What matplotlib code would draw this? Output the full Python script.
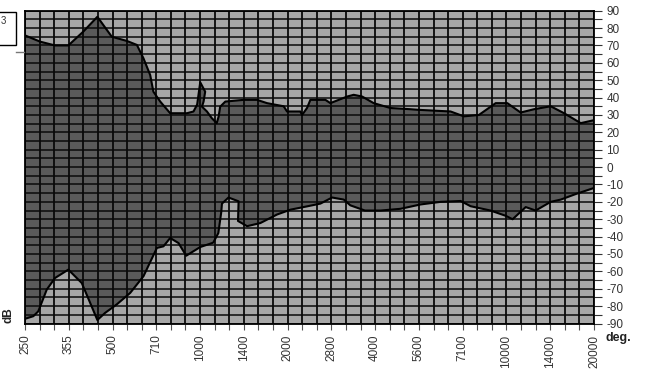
import numpy as np
import matplotlib
matplotlib.use("Agg")
import matplotlib.pyplot as plt
from matplotlib.patches import Rectangle
from matplotlib.lines import Line2D

plt.rcParams['font.family'] = ['Liberation Sans', 'DejaVu Sans']

# frequency bands (categorical axis, labels on every 3rd band)
n_bands = 40
freq_labels = ['250', '355', '500', '710', '1000', '1400', '2000', '2800',
               '4000', '5600', '7100', '10000', '14000', '20000']

# upper edge of the coverage (band position, degrees)
upper_pos = [0, 1.03, 2.06, 2.97, 4.0, 4.96, 5.95, 6.98, 7.67, 8.12, 8.58, 8.8,
             9.27, 9.95, 11.1, 11.55, 11.8, 12.01, 12.35, 12.24, 12.13, 12.47,
             12.8, 13.14, 13.27, 13.38, 13.73, 14.98, 15.9, 16.59, 17.73, 17.96,
             18.87, 18.99, 19.33, 19.56, 20.59, 20.93, 22.08, 22.53, 23.11, 23.9,
             25.05, 26.42, 26.88, 29.17, 30.08, 31.11, 32.26, 33.06, 33.97, 34.89,
             36.03, 36.95, 38.09, 39]
upper_deg = [75.8, 72.2, 70, 70, 78, 86.5, 75, 72.6, 70.3, 62.6, 53, 43.4,
             37.7, 31, 31, 32, 36, 48.8, 43.4, 37.7, 34.8, 32,
             28.2, 25.3, 29, 34.8, 37.7, 38.7, 38.7, 36.8, 35, 32,
             32, 30, 34, 38.7, 38.7, 36.8, 40.6, 41.6, 40.6, 36.8,
             34, 33.3, 33, 32, 29.2, 30, 36.8, 36.8, 31.4, 33.3,
             35, 31, 25.3, 27]

# lower edge of the coverage
lower_pos = [0, 0.57, 0.91, 1.49, 2.06, 2.97, 3.89, 4.46, 4.96, 5.49, 6.29, 7.21,
             8.12, 9.04, 9.49, 9.95, 10.52, 11.05, 12.01, 12.9, 13.25, 13.45,
             13.5, 13.95, 14.64, 14.6, 15.22, 16.13, 17.27, 18.19, 19.33, 20.25,
             21.05, 21.85, 22.3, 23.3, 24.37, 25.74, 27.11, 28.48, 29.86, 30.54,
             31.91, 32.94, 33.42, 34.32, 35.0, 36.03, 36.72, 37.75, 39]
lower_deg = [-87.3, -85.8, -83, -70.5, -63.8, -59, -66.7, -78, -88, -83.9, -79, -72.4,
             -62.8, -46.5, -45.6, -40.8, -43.7, -51, -46, -43.5, -38, -26,
             -21, -17.5, -19.7, -31, -34, -32.2, -27.3, -24.5, -22.6, -21,
             -17.5, -18.7, -22, -25, -25, -24, -21.5, -20, -19.5, -22.5,
             -25, -28, -30, -23, -25, -20, -18.7, -15.5, -12]

fig = plt.figure(figsize=(6.56, 3.71), dpi=100)
ax = fig.add_axes([25 / 656, 1 - 323.5 / 371, 569 / 656, 312.8 / 371])

ax.set_facecolor('#a7a7a7')
poly_x = np.r_[upper_pos, lower_pos[::-1]]
poly_y = np.r_[upper_deg, lower_deg[::-1]]
ax.fill(poly_x, poly_y, color='#5a5a5a', lw=0, zorder=1)

# grid
for i in range(n_bands):
    ax.axvline(i, color='#0a0a0a', lw=1.3, zorder=2)
for d in range(-90, 91, 5):
    ax.axhline(d, color='#0a0a0a', lw=1.1, zorder=2)

ax.plot(upper_pos, upper_deg, color='black', lw=1.5, zorder=3)
ax.plot(lower_pos, lower_deg, color='black', lw=1.5, zorder=3)

ax.set_xlim(0, n_bands - 1)
ax.set_ylim(-90, 90)

ax.set_xticks(range(n_bands), minor=True)
ax.set_xticks(range(0, n_bands, 3))
ax.set_xticklabels(freq_labels, rotation=90, fontsize=8.5, color='#333333')
ax.tick_params(axis='x', which='both', direction='out', length=4, width=0.8,
               color='#555555', pad=4)

ax.yaxis.tick_right()
ax.set_yticks(range(-90, 91, 10))
ax.set_yticks(range(-90, 91, 5), minor=True)
ax.set_yticklabels([str(v) for v in range(-90, 91, 10)], fontsize=8.5, color='#333333')
ax.tick_params(axis='y', which='both', direction='out', length=6, width=0.8,
               color='#333333', pad=3)

for s in ax.spines.values():
    s.set_color('black')
    s.set_linewidth(1.3)
    s.set_zorder(4)

fig.text(8 / 656, 1 - 315 / 371, 'dB', rotation=90, fontsize=8.5, fontweight='bold',
         ha='center', va='center', color='#222222')
fig.text(606 / 656, 1 - 338 / 371, 'deg.', fontsize=9, fontweight='bold',
         ha='left', va='center', color='#222222')

# cut-off legend box at the top left
fig.patches.append(Rectangle((-10 / 656, 1 - 45 / 371), 26 / 656, 33 / 371,
                             transform=fig.transFigure, fill=False, ec='black', lw=1))
fig.text(1 / 656, 1 - 21 / 371, '3', fontsize=7, ha='left', va='center', color='#333333')
fig.lines.append(Line2D([16 / 656, 24 / 656], [1 - 52 / 371, 1 - 52 / 371],
                        transform=fig.transFigure, color='#777777', lw=1))

fig.savefig('out.png', dpi=100)
